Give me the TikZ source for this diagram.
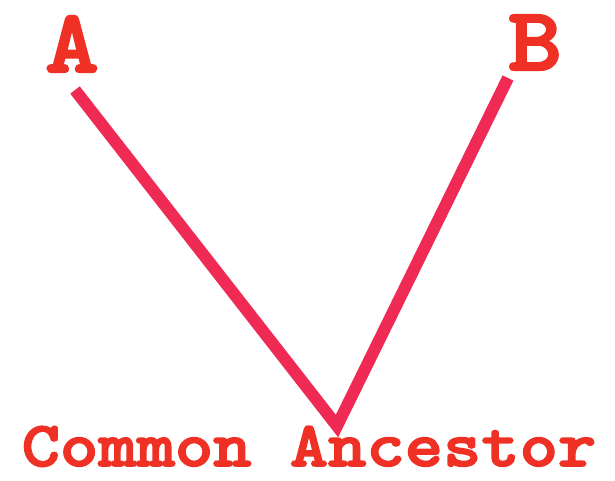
\documentclass[tikz,border=0pt]{standalone}
\usepackage{fontspec}
\newfontfamily\slabfont{lmmonolt10-bold.otf}[FakeStretch=1.14,FakeBold=2.5]
\definecolor{txtred}{HTML}{EE3124}
\definecolor{linered}{HTML}{EE2A55}
\begin{document}
\begin{tikzpicture}[x=1pt,y=-1pt,
  lbl/.style={inner sep=0pt,anchor=base,text=txtred,text depth=2pt},
  big/.style={lbl,text height=60pt,font=\slabfont\fontsize{90}{90}\selectfont},
  small/.style={lbl,text height=42pt,font=\slabfont\fontsize{64}{64}\selectfont},
  branch/.style={draw=linered,line width=12pt,line join=miter}]
\useasboundingbox (0,0) rectangle (615,480);
\node[big] (A) at (72,72) {A};
\node[big] (B) at (535,70) {B};
\node[small] (C) at (309,466) {Common Ancestor};
\coordinate (a) at (75,90);
\coordinate (b) at (508,78);
\coordinate (v) at (337,426);
\draw[branch] (a) -- (v) -- (b);
\end{tikzpicture}
\end{document}
